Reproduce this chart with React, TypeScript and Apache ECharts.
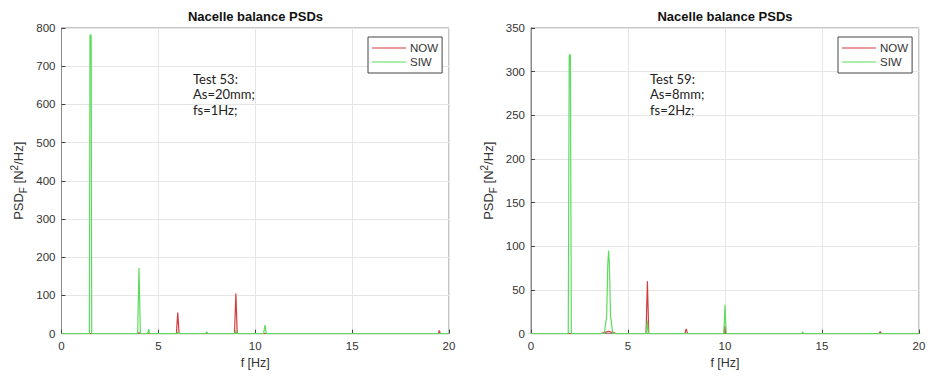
import React, { useEffect, useRef } from "react";
import * as echarts from "echarts";

// Test 53 (left panel)
const leftNowFreq = [0, 3.9, 4.0, 4.1, 5.93, 6.0, 6.07, 8.93, 9.0, 9.07, 19.45, 19.5, 19.55, 20];
const leftNowPsd = [0, 0, 2, 0, 0, 55, 0, 0, 105, 0, 0, 8, 0, 0];
const leftSiwFreq = [0, 1.44, 1.47, 1.5, 1.53, 1.56, 3.93, 4.0, 4.07, 4.45, 4.5, 4.55, 5.95, 6.0, 6.05, 7.45, 7.5, 7.55, 8.95, 9.0, 9.05, 10.43, 10.5, 10.57, 20];
const leftSiwPsd = [0, 0, 780, 783, 780, 0, 0, 172, 0, 0, 12, 0, 0, 4, 0, 0, 5, 0, 0, 8, 0, 0, 22, 0, 0];

// Test 59 (right panel)
const rightNowFreq = [0, 3.6, 4.0, 4.4, 5.93, 6.0, 6.07, 7.93, 8.0, 8.07, 9.95, 10.0, 10.05, 17.95, 18.0, 18.05, 20];
const rightNowPsd = [0, 0, 2.5, 0, 0, 60, 0, 0, 5.5, 0, 0, 9, 0, 0, 2.5, 0, 0];
const rightSiwFreq = [0, 1.92, 1.97, 2.0, 2.03, 2.08, 3.78, 3.9, 3.96, 4.0, 4.04, 4.1, 4.22, 5.95, 6.0, 6.05, 9.94, 10.0, 10.06, 13.95, 14.0, 14.05, 20];
const rightSiwPsd = [0, 0, 318, 320, 318, 0, 0, 20, 80, 95, 80, 20, 0, 0, 15, 0, 0, 33, 0, 0, 2, 0, 0];

const xTicks = { min: 0, max: 20, interval: 5 };
const leftY = { min: 0, max: 800, interval: 100 };
const rightY = { min: 0, max: 350, interval: 50 };

const titleText = "Nacelle balance PSDs";
const xName = "f [Hz]";
const yNameRich = "{a|PSD}{b|F}{a| [N}{c|2}{a|/Hz]}";
const leftNote = ["Test 53:", "As=20mm;", "fs=1Hz;"];
const rightNote = ["Test 59:", "As=8mm;", "fs=2Hz;"];
const names = ["NOW", "SIW"];

const RED = "#d23c3c";
const GREEN = "#5cdc5c";
const AXIS = "#8a8a8a";
const TXT = "#333333";
const GRID = "#e6e6e6";
const FONT = "Liberation Sans, Arial, sans-serif";

const zip = (f: number[], v: number[]) => f.map((x, i) => [x, v[i]]);

export default function App() {
  const ref = useRef<HTMLDivElement>(null);
  useEffect(() => {
    const chart = echarts.init(ref.current!, undefined, { renderer: "svg" });
    const grids = [
      { left: 61.5, top: 28, width: 387.5, height: 305.6 },
      { left: 531, top: 28, width: 388, height: 305.6 },
    ];
    const xAxis = grids.map((_, i) => ({
      type: "value",
      gridIndex: i,
      ...xTicks,
      name: xName,
      nameLocation: "middle",
      nameGap: 23,
      nameTextStyle: { color: TXT, fontSize: 12.5, fontFamily: FONT },
      axisLine: { show: true, onZero: false, lineStyle: { color: AXIS } },
      axisTick: { show: true, inside: true, length: 4, lineStyle: { color: "#444" } },
      axisLabel: { color: TXT, fontSize: 11.5, fontFamily: FONT, margin: 6 },
      splitLine: { show: true, lineStyle: { color: GRID } },
    }));
    const yAxis = [leftY, rightY].map((r, i) => ({
      type: "value",
      gridIndex: i,
      ...r,
      name: yNameRich,
      nameLocation: "middle",
      nameRotate: 90,
      nameGap: 33,
      nameTextStyle: {
        rich: {
          a: { fontSize: 13, color: TXT, fontFamily: FONT },
          b: { fontSize: 10, color: TXT, fontFamily: FONT, padding: [10, 0, 0, 0] },
          c: { fontSize: 10, color: TXT, fontFamily: FONT, padding: [0, 0, 8, 0] },
        },
      },
      axisLine: { show: true, lineStyle: { color: AXIS } },
      axisTick: { show: true, inside: true, length: 4, lineStyle: { color: "#444" } },
      axisLabel: { color: TXT, fontSize: 11.5, fontFamily: FONT, margin: 6 },
      splitLine: { show: true, lineStyle: { color: GRID } },
    }));
    const mk = (name: string, color: string, f: number[], v: number[], idx: number) => ({
      type: "line",
      name,
      xAxisIndex: idx,
      yAxisIndex: idx,
      data: zip(f, v),
      symbol: "none",
      lineStyle: { color, width: 1.2 },
      itemStyle: { color },
      z: name === "SIW" ? 3 : 2,
    });
    const legendBase = {
      orient: "vertical",
      top: 37,
      data: names,
      icon: "rect",
      itemWidth: 34,
      itemHeight: 1,
      itemGap: 2,
      padding: [5, 4, 5, 4],
      borderColor: "#444",
      borderWidth: 1,
      backgroundColor: "#fff",
      textStyle: { color: TXT, fontSize: 11.5, fontFamily: FONT, padding: [0, 0, 0, -1] },
      selectedMode: false,
    };
    const note = (lines: string[], x: number) =>
      lines.map((t, k) => ({
        type: "text",
        x,
        y: 72 + k * 15.7,
        style: { text: t, fontSize: 13, fill: "#222", fontFamily: "Lato, sans-serif" },
      }));
    const titleStyle = { fontSize: 13, fontWeight: "bold", color: "#111", fontFamily: FONT };
    chart.setOption({
      animation: false,
      backgroundColor: "#fff",
      title: [
        { text: titleText, left: 255.5, top: 10, padding: 0, textAlign: "center", textStyle: titleStyle },
        { text: titleText, left: 725, top: 10, padding: 0, textAlign: "center", textStyle: titleStyle },
      ],
      legend: [
        { ...legendBase, left: 368 },
        { ...legendBase, left: 838 },
      ],
      grid: grids.map((g) => ({ ...g, show: true, borderColor: AXIS, borderWidth: 1, backgroundColor: "transparent" })),
      xAxis,
      yAxis,
      series: [
        mk("NOW", RED, leftNowFreq, leftNowPsd, 0),
        mk("SIW", GREEN, leftSiwFreq, leftSiwPsd, 0),
        mk("NOW", RED, rightNowFreq, rightNowPsd, 1),
        mk("SIW", GREEN, rightSiwFreq, rightSiwPsd, 1),
      ],
      graphic: [...note(leftNote, 193), ...note(rightNote, 650)],
    });
    return () => chart.dispose();
  }, []);
  return <div ref={ref} style={{ position: "fixed", left: 0, top: 0, width: 929, height: 381 }} />;
}
